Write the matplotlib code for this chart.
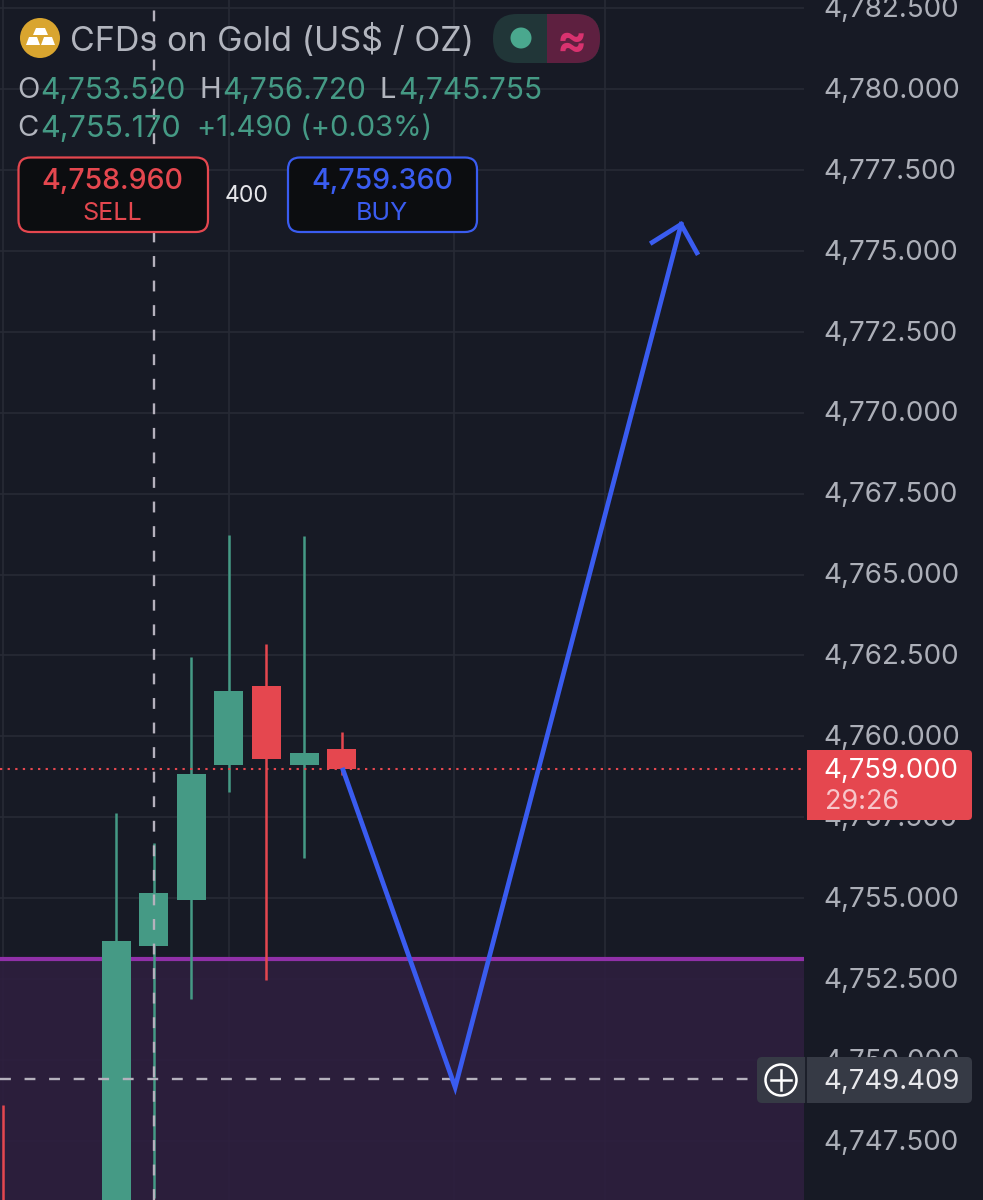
import matplotlib
matplotlib.use("Agg")
import matplotlib.pyplot as plt
from matplotlib.patches import FancyBboxPatch, Circle, Polygon, Rectangle, Ellipse
from matplotlib.transforms import ScaledTranslation

plt.rcParams['font.family'] = ['Inter', 'DejaVu Sans']

# ---- data ----
bar_index = [-3, 0, 1, 2, 3, 4, 5, 6]
opens  = [4745.40, 4744.00, 4753.52, 4754.95, 4759.12, 4761.56, 4759.12, 4759.61]
highs  = [4748.61, 4757.63, 4756.72, 4762.45, 4766.22, 4762.85, 4766.19, 4760.14]
lows   = [4745.00, 4743.50, 4745.755, 4751.89, 4758.28, 4752.47, 4756.24, 4758.81]
closes = [4745.20, 4753.68, 4755.17, 4758.84, 4761.40, 4759.30, 4759.49, 4758.99]

tick_prices = [4747.5, 4750, 4752.5, 4755, 4757.5, 4760, 4762.5, 4765, 4767.5,
               4770, 4772.5, 4775, 4777.5, 4780, 4782.5]
tick_labels = [f"{p:,.3f}" for p in tick_prices]
grid_bars = [-3, 3, 9, 13]

zone_top = 4753.13
last_price = 4759.0
cross_price = 4749.409
cross_bar = 1

path_bars = [6.04, 9.02, 15.03]
path_prices = [4758.96, 4749.16, 4775.82]
head_bars = [14.26, 15.03, 15.45]
head_prices = [4775.26, 4775.82, 4774.94]

title = "CFDs on Gold (US$ / OZ)"

# ---- colours ----
BG = "#171a25"; GRID = "#272a35"; GREEN = "#459a85"; RED = "#e5474f"; BLUE = "#3a5cf0"
AXT = "#acafb8"; PURPLE = "#9030a8"; ZONE = "#2e1f3f"; CROSS = "#b5b1bd"

W, H = 983, 1200
fig = plt.figure(figsize=(W/100, H/100), dpi=100, facecolor=BG)
ax = fig.add_axes([0, 0, 804/W, 1], facecolor=BG)
px_per_bar = 37.6
ax.set_xlim(-116/px_per_bar, (804-116)/px_per_bar)
ax.set_ylim(4780-(1200-89)/32.37, 4780+89/32.37)
for s in ax.spines.values():
    s.set_visible(False)
ax.yaxis.tick_right()
ax.set_yticks(tick_prices)
ax.set_yticklabels(tick_labels)
ax.set_xticks(grid_bars)
ax.tick_params(axis='x', length=0, labelbottom=False)
ax.tick_params(axis='y', length=0, pad=15, labelsize=20, labelcolor=AXT)
ax.grid(True, color=GRID, lw=1.2, zorder=0)
ax.set_axisbelow(True)
for lab in ax.get_yticklabels():
    lab.set_transform(lab.get_transform() + ScaledTranslation(-1/100, 1.2/100, fig.dpi_scale_trans))

ax.axhspan(ax.get_ylim()[0], zone_top, color=ZONE, alpha=0.88, lw=0, zorder=1)
ax.axhline(zone_top, color=PURPLE, lw=3, zorder=2)

for x, o, h, l, c in zip(bar_index, opens, highs, lows, closes):
    col = GREEN if c >= o else RED
    ax.vlines(x, l, h, color=col, lw=1.8, zorder=3)
    ax.bar(x, abs(c-o), bottom=min(o, c), width=29/px_per_bar, color=col, lw=0, zorder=4)

ax.axhline(last_price, color=RED, lw=1.5, ls=(0, (1.1, 2.55)), zorder=5)
ax.axvline(cross_bar, color=CROSS, lw=1.7, ls=(0, (4.6, 5.8)), zorder=6)
ax.axhline(cross_price, color=CROSS, lw=1.7, ls=(0, (4.6, 5.8)), zorder=6)

ax.plot(path_bars, path_prices, color=BLUE, lw=3.4, solid_joinstyle='miter', zorder=7)
ax.plot(head_bars, head_prices, color=BLUE, lw=3.4, solid_joinstyle='miter', zorder=7)

# ---- interface overlay in pixel coordinates ----
ui = fig.add_axes([0, 0, 1, 1], facecolor='none')
ui.set_xlim(0, W); ui.set_ylim(H, 0); ui.axis('off')

def box(x0, y0, x1, y1, r, fc, ec='none', lw=0, z=10):
    ui.add_patch(FancyBboxPatch((x0+r, y0+r), x1-x0-2*r, y1-y0-2*r,
                 boxstyle=f"round,pad={r},rounding_size={r}", fc=fc, ec=ec, lw=lw, zorder=z))

def txt(x, y, s, color, size, ha='left', weight='normal'):
    ui.text(x, y, s, color=color, fontsize=size, ha=ha, va='center_baseline',
            fontweight=weight, zorder=20)

# gold icon
ui.add_patch(Ellipse((40, 38), 40, 40, fc="#d9a52f", ec='none', zorder=11))
for pts in ([(36, 28), (45, 28), (48, 35), (33, 35)],
            [(29, 37), (37, 37), (40, 45), (26, 45)],
            [(44, 37), (52, 37), (55, 45), (41, 45)]):
    ui.add_patch(Polygon(pts, closed=True, fc="white", ec='none', zorder=12))
txt(70, 38, title, "#b2b5be", 24.5)

# status pill
box(493, 14, 600, 63, 24, "#213638", z=10)
pink = FancyBboxPatch((493+24, 14+24), 107-48, 1, boxstyle="round,pad=24,rounding_size=24",
                      fc="#5e2040", ec='none', zorder=11)
ui.add_patch(pink)
pink.set_clip_path(Rectangle((547, 0), 80, 100, transform=ui.transData))
ui.add_patch(Circle((521, 38), 10.5, fc="#4aa88e", ec='none', zorder=12))
txt(572, 38, "≈", "#d8326f", 32, ha='center', weight='bold')

# OHLC
LBL = "#b2b5be"
for x, y, s, c, sz in [(17.5, 88, "O", LBL, 21), (40, 88, "4,753.520", GREEN, 21.5),
                       (199, 88, "H", LBL, 21), (222, 88, "4,756.720", GREEN, 21.5),
                       (380, 88, "L", LBL, 21), (398, 88, "4,745.755", GREEN, 21.5),
                       (17.5, 126, "C", LBL, 21), (40, 126, "4,755.170", GREEN, 22),
                       (197, 126, "+1.490 (+0.03%)", GREEN, 21)]:
    txt(x, y, s, c, sz)

# sell / buy buttons
box(18.5, 157.5, 208, 232, 12, "#0c0d10", RED, 1.6)
box(288, 157.5, 477, 232, 12, "#0c0d10", BLUE, 1.6)
txt(112.5, 178, "4,758.960", RED, 20.5, ha='center', weight='medium')
txt(112.5, 211, "SELL", RED, 18, ha='center')
txt(382, 178, "4,759.360", BLUE, 20.5, ha='center', weight='medium')
txt(382, 211, "BUY", BLUE, 18, ha='center')
txt(247, 193, "400", "#e6e6ea", 16.5, ha='center')

# last price tag
box(807, 750, 972, 820, 4, RED)
ui.add_patch(Rectangle((807, 750), 10, 70, fc=RED, ec='none', zorder=10))
txt(823.5, 768, f"{last_price:,.3f}", "white", 19.8)
txt(825, 799, "29:26", "#f7c6ca", 19.5)

# crosshair tag
box(757, 1057, 972, 1103, 5, "#363a45")
ui.plot([805.5, 805.5], [1057, 1103], color=BG, lw=1.2, zorder=11)
ui.add_patch(Circle((781, 1080), 15.5, fc='none', ec='white', lw=1.8, zorder=12))
ui.plot([771, 791], [1080, 1080], color='white', lw=1.8, zorder=12)
ui.plot([781, 781], [1070, 1090], color='white', lw=1.8, zorder=12)
txt(823.5, 1079, f"{cross_price:,.3f}", "#e8e8ec", 19.8)

fig.savefig("out.png", dpi=100, facecolor=BG)
